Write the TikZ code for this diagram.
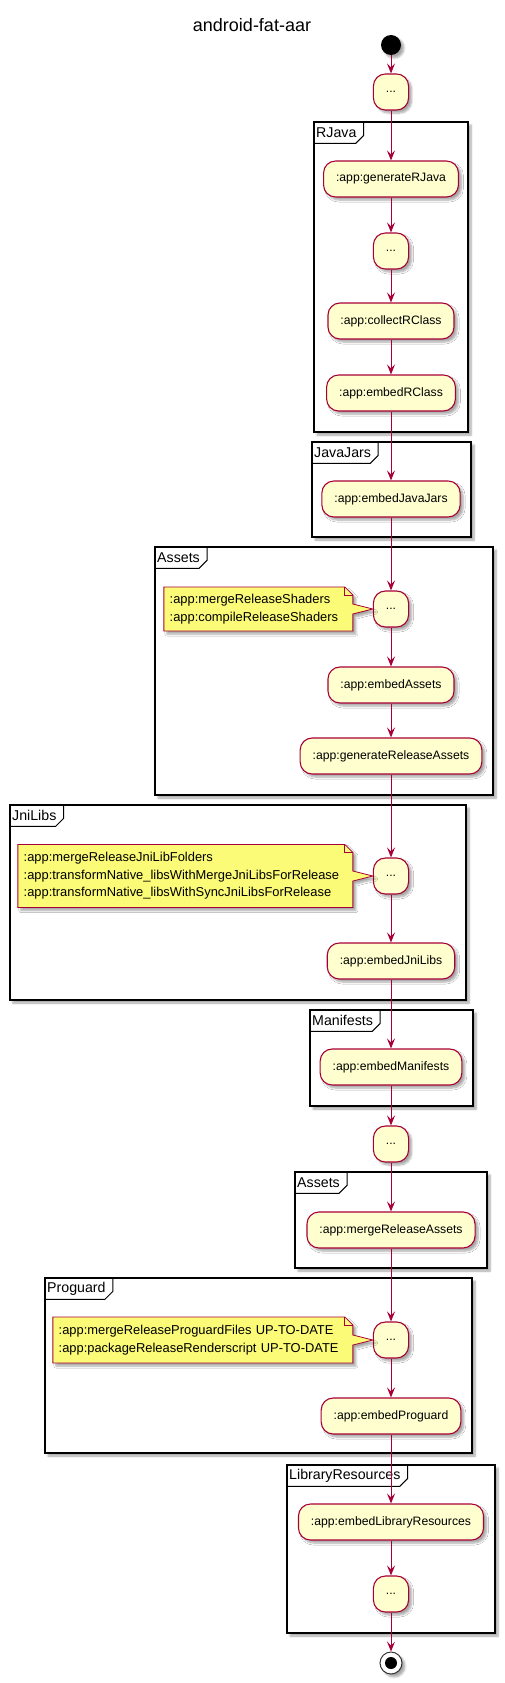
\documentclass[tikz,border=0pt]{standalone}
\usepackage{fontspec}
\setmainfont{Liberation Sans}
\usetikzlibrary{
	arrows.meta,
	positioning,
	shadows.blur
}
\definecolor{ActFill}{HTML}{FEFECE}
\definecolor{ActLine}{HTML}{A80036}
\definecolor{NoteFill}{HTML}{FBFB77}

\tikzset{
	softshadow/.style={blur shadow={shadow xshift=3pt, shadow yshift=-3pt, shadow blur radius=2pt, shadow blur steps=6, shadow opacity=35}},
	act/.style={draw=ActLine, fill=ActFill, line width=1.1pt, rounded corners=12pt, minimum height=36pt, minimum width=32pt, inner xsep=12.5pt, font=\fontsize{12.2}{14}\selectfont, softshadow},
	flow/.style={draw=ActLine, line width=1pt, -{Stealth[length=10pt, width=8pt, inset=4pt]}},
	notetext/.style={anchor=east, inner xsep=6pt, inner ysep=0pt, align=left, font=\fontsize{12.9}{17.5}\selectfont},
	noteshape/.style={draw=ActLine, fill=NoteFill, line width=0.8pt, line join=miter, softshadow},
	notefold/.style={draw=ActLine, line width=0.8pt},
	frame/.style={draw=black, line width=1.5pt, fill=white, softshadow},
	framelabel/.style={anchor=north west, inner xsep=2pt, inner ysep=0pt, minimum height=21pt, font=\fontsize{14.2}{16}\selectfont},
	frametab/.style={draw=black, line width=1pt}
}

\begin{document}
\begin{tikzpicture}[x=1pt, y=-1pt]
	\useasboundingbox (0,0) rectangle (505,1683);
	\node[font=\fontsize{18}{20}\selectfont, anchor=base] (title) at (252,32) {android-fat-aar};

	% frames
	\draw[frame] (314,122) rectangle (468,432);
	\node[framelabel] (lblRJava) at (314,122) {RJava};
	\draw[frametab] (lblRJava.north west) -- ([xshift=5pt]lblRJava.north east) -- ([xshift=5pt, yshift=8pt]lblRJava.south east) -- ([xshift=-3pt]lblRJava.south east) -- (lblRJava.south west);
	\draw[frame] (312,442) rectangle (471,537);
	\node[framelabel] (lblJars) at (312,442) {JavaJars};
	\draw[frametab] (lblJars.north west) -- ([xshift=5pt]lblJars.north east) -- ([xshift=5pt, yshift=8pt]lblJars.south east) -- ([xshift=-3pt]lblJars.south east) -- (lblJars.south west);
	\draw[frame] (155,547) rectangle (493,795);
	\node[framelabel] (lblAssets) at (155,547) {Assets};
	\draw[frametab] (lblAssets.north west) -- ([xshift=5pt]lblAssets.north east) -- ([xshift=5pt, yshift=8pt]lblAssets.south east) -- ([xshift=-3pt]lblAssets.south east) -- (lblAssets.south west);
	\draw[frame] (10,805) rectangle (466,1000);
	\node[framelabel] (lblJni) at (10,805) {JniLibs};
	\draw[frametab] (lblJni.north west) -- ([xshift=5pt]lblJni.north east) -- ([xshift=5pt, yshift=8pt]lblJni.south east) -- ([xshift=-3pt]lblJni.south east) -- (lblJni.south west);
	\draw[frame] (310,1010) rectangle (473,1106);
	\node[framelabel] (lblMan) at (310,1010) {Manifests};
	\draw[frametab] (lblMan.north west) -- ([xshift=5pt]lblMan.north east) -- ([xshift=5pt, yshift=8pt]lblMan.south east) -- ([xshift=-3pt]lblMan.south east) -- (lblMan.south west);
	\draw[frame] (295,1172) rectangle (487,1268);
	\node[framelabel] (lblAssetsB) at (295,1172) {Assets};
	\draw[frametab] (lblAssetsB.north west) -- ([xshift=5pt]lblAssetsB.north east) -- ([xshift=5pt, yshift=8pt]lblAssetsB.south east) -- ([xshift=-3pt]lblAssetsB.south east) -- (lblAssetsB.south west);
	\draw[frame] (45,1278) rectangle (472,1453);
	\node[framelabel] (lblPro) at (45,1278) {Proguard};
	\draw[frametab] (lblPro.north west) -- ([xshift=5pt]lblPro.north east) -- ([xshift=5pt, yshift=8pt]lblPro.south east) -- ([xshift=-3pt]lblPro.south east) -- (lblPro.south west);
	\draw[frame] (287,1465) rectangle (495,1633);
	\node[framelabel] (lblLib) at (287,1465) {LibraryResources};
	\draw[frametab] (lblLib.north west) -- ([xshift=5pt]lblLib.north east) -- ([xshift=5pt, yshift=8pt]lblLib.south east) -- ([xshift=-3pt]lblLib.south east) -- (lblLib.south west);

	% activities
	\node[circle, fill=black, minimum size=20pt, inner sep=0pt, softshadow] (start) at (391,45) {};
	\node[act] (init) at (391,92) {...};
	\node[act] (genR) at (391,179) {:app:generateRJava};
	\node[act] (dotsR) at (391,251) {...};
	\node[act] (collectR) at (391,321) {:app:collectRClass};
	\node[act] (embedR) at (391,393) {:app:embedRClass};
	\node[act] (embedJars) at (391,499) {:app:embedJavaJars};
	\node[act] (dotsA) at (391,609) {...};
	\node[act] (embedA) at (391,685) {:app:embedAssets};
	\node[act] (genA) at (391,756) {:app:generateReleaseAssets};
	\node[act] (dotsJ) at (391,876) {...};
	\node[act] (embedJ) at (391,961) {:app:embedJniLibs};
	\node[act] (embedM) at (391,1067) {:app:embedManifests};
	\node[act] (dotsM) at (391,1144) {...};
	\node[act] (mergeA) at (391,1230) {:app:mergeReleaseAssets};
	\node[act] (dotsP) at (391,1340) {...};
	\node[act] (embedP) at (391,1416) {:app:embedProguard};
	\node[act] (embedL) at (391,1522) {:app:embedLibraryResources};
	\node[act] (dotsL) at (391,1594) {...};
	\node[circle, draw=black!80, line width=1pt, fill=white, minimum size=22pt, inner sep=0pt, softshadow] (stop) at (391,1663) {};
	\node[circle, fill=black, minimum size=12pt, inner sep=0pt] (stopdot) at (stop) {};

	% notes
	\coordinate[left=20pt of dotsA] (noteAe);
	\coordinate[left=20pt of dotsJ] (noteJe);
	\coordinate[left=20pt of dotsP] (notePe);
	\path[noteshape] ([shift={(-189,-22)}]noteAe) -- ([shift={(-8,-22)}]noteAe) -- ([shift={(0,-14)}]noteAe) -- ([shift={(0,-5)}]noteAe) -- (dotsA.west) -- ([shift={(0,5)}]noteAe) -- ([shift={(0,22)}]noteAe) -- ([shift={(-189,22)}]noteAe) -- cycle;
	\draw[notefold] ([shift={(-8,-22)}]noteAe) -- ([shift={(-8,-14)}]noteAe) -- ([shift={(0,-14)}]noteAe);
	\node[notetext, text width=177pt, minimum height=44pt] (noteA) at (noteAe) {:app:mergeReleaseShaders\\:app:compileReleaseShaders};
	\path[noteshape] ([shift={(-335,-31.5)}]noteJe) -- ([shift={(-8,-31.5)}]noteJe) -- ([shift={(0,-23.5)}]noteJe) -- ([shift={(0,-5)}]noteJe) -- (dotsJ.west) -- ([shift={(0,5)}]noteJe) -- ([shift={(0,31.5)}]noteJe) -- ([shift={(-335,31.5)}]noteJe) -- cycle;
	\draw[notefold] ([shift={(-8,-31.5)}]noteJe) -- ([shift={(-8,-23.5)}]noteJe) -- ([shift={(0,-23.5)}]noteJe);
	\node[notetext, text width=323pt, minimum height=63pt] (noteJ) at (noteJe) {:app:mergeReleaseJniLibFolders\\:app:transformNative\_libsWithMergeJniLibsForRelease\\:app:transformNative\_libsWithSyncJniLibsForRelease};
	\path[noteshape] ([shift={(-300,-23)}]notePe) -- ([shift={(-8,-23)}]notePe) -- ([shift={(0,-15)}]notePe) -- ([shift={(0,-5)}]notePe) -- (dotsP.west) -- ([shift={(0,5)}]notePe) -- ([shift={(0,23)}]notePe) -- ([shift={(-300,23)}]notePe) -- cycle;
	\draw[notefold] ([shift={(-8,-23)}]notePe) -- ([shift={(-8,-15)}]notePe) -- ([shift={(0,-15)}]notePe);
	\node[notetext, text width=288pt, minimum height=46pt] (noteP) at (notePe) {:app:mergeReleaseProguardFiles UP-TO-DATE\\:app:packageReleaseRenderscript UP-TO-DATE};

	% connectors
	\draw[flow] (start) -- (init);
	\draw[flow] (init) -- (genR);
	\draw[flow] (genR) -- (dotsR);
	\draw[flow] (dotsR) -- (collectR);
	\draw[flow] (collectR) -- (embedR);
	\draw[flow] (embedR) -- (embedJars);
	\draw[flow] (embedJars) -- (dotsA);
	\draw[flow] (dotsA) -- (embedA);
	\draw[flow] (embedA) -- (genA);
	\draw[flow] (genA) -- (dotsJ);
	\draw[flow] (dotsJ) -- (embedJ);
	\draw[flow] (embedJ) -- (embedM);
	\draw[flow] (embedM) -- (dotsM);
	\draw[flow] (dotsM) -- (mergeA);
	\draw[flow] (mergeA) -- (dotsP);
	\draw[flow] (dotsP) -- (embedP);
	\draw[flow] (embedP) -- (embedL);
	\draw[flow] (embedL) -- (dotsL);
	\draw[flow] (dotsL) -- (stop);
\end{tikzpicture}
\end{document}
